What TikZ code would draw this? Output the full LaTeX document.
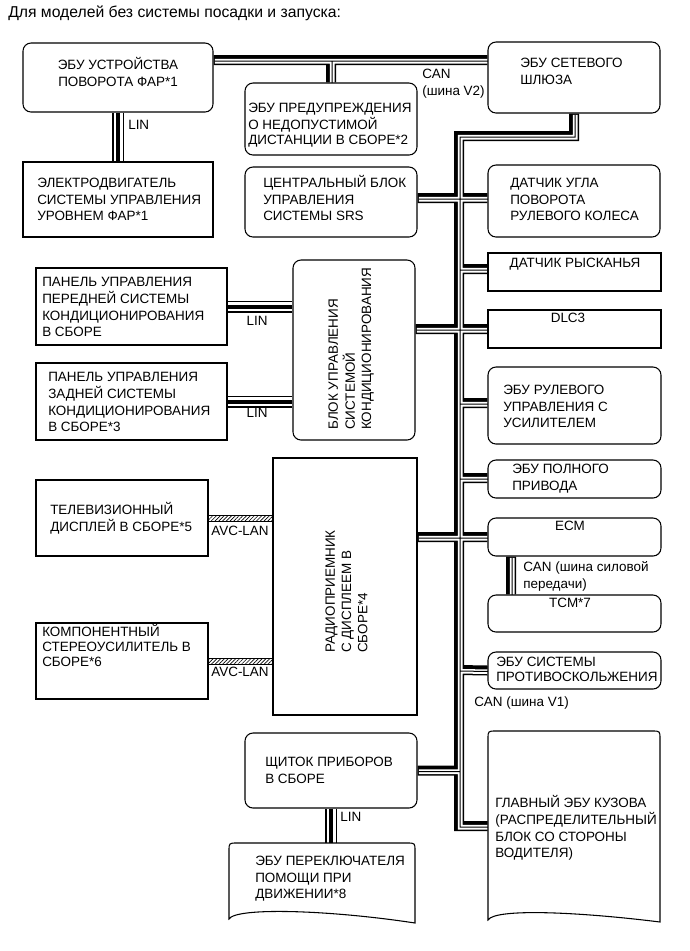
\documentclass[tikz,border=0pt]{standalone}
\usepackage{fontspec}
\setmainfont{Liberation Sans}
\usetikzlibrary{patterns.meta}
\newcommand{\ml}[2][l]{\begin{tabular}[t]{@{}#1@{}}#2\end{tabular}}
\pgfdeclarelayer{bg}
\pgfsetlayers{bg,main}
\tikzset{
  sz/.style 2 args={minimum width=#1*0.75pt, minimum height=#2*0.75pt},
  box/.style={draw, line width=0.8pt, fill=white, inner sep=0pt, rectangle},
  rbox/.style={box, rounded corners=6pt},
  shapeline/.style={draw, line width=0.8pt, fill=white},
  txt/.style={inner sep=0pt, font=\fontsize{10.1}{12.2}\selectfont},
  busA/.style={draw=black, line width=7.5pt},
  busB/.style={draw=white, line width=3.4pt, transform canvas={shift={(1.25,1.25)}}},
  busC/.style={draw=black, line width=0.75pt, transform canvas={shift={(1,1)}}},
  linA/.style={draw=black, line width=9pt},
  linB/.style={draw=white, line width=6.75pt},
  linC/.style={draw=black, line width=3pt},
  avc/.style={draw=black, line width=0.5pt, pattern={Lines[angle=45,distance=2pt,line width=0.5pt]}},
}
\begin{document}
\begin{tikzpicture}[x=0.75pt,y=-0.75pt]
\useasboundingbox (0,0) rectangle (690,951);

% document-shaped boxes
\draw[shapeline] (229,919) -- (229,851) .. controls (229,843) .. (237,843) -- (407,843) .. controls (415,843) .. (415,851) -- (415,923) .. controls (330,910) and (236,907) .. (229,919) -- cycle;
\draw[shapeline] (488,920) -- (488,739) .. controls (488,731) .. (496,731) -- (652,731) .. controls (660,731) .. (660,739) -- (660,922) .. controls (580,912) and (495,908) .. (488,920) -- cycle;

% boxes
\node[rbox, sz={190}{69}] (hl) at (118,77.5) {};
\node[box, sz={190}{75}] (lvl) at (118,199.5) {};
\node[rbox, sz={172}{72}] (warn) at (331,119) {};
\node[rbox, sz={172}{71}] (gw) at (574,77.5) {};
\node[rbox, sz={172}{70}] (srs) at (331,202) {};
\node[rbox, sz={172}{72}] (sas) at (574,201) {};
\node[box, sz={173}{38}] (yaw) at (574.5,272) {};
\node[box, sz={173}{38}] (dlc) at (574.5,329) {};
\node[rbox, sz={173}{77}] (eps) at (574.5,405.5) {};
\node[rbox, sz={122}{180}] (ac) at (354,350) {};
\node[box, sz={191}{77}] (fp) at (131.5,306.5) {};
\node[box, sz={191}{77}] (rp) at (131.5,401.5) {};
\node[rbox, sz={173}{38}] (awd) at (574.5,479) {};
\node[rbox, sz={173}{38}] (ecm) at (574.5,537) {};
\node[rbox, sz={173}{37}] (tcm) at (574.5,613.5) {};
\node[rbox, sz={173}{37}] (abs) at (574.5,670.5) {};
\node[box, sz={144}{257}] (radio) at (345,586.5) {};
\node[box, sz={172}{76}] (tv) at (122,518) {};
\node[box, sz={172}{76}] (amp) at (122,661) {};
\node[rbox, sz={172}{75}] (meter) at (331,770.5) {};
\node[inner sep=0pt, sz={186}{77}] (sw) at (322,881.5) {};
\node[inner sep=0pt, sz={172}{189}] (body) at (574,825.5) {};

% buses
\def\cannet{(hl.east |- 0,60) -- (gw.west |- 0,60) (warn.north |- 0,60) -- (warn.north)
   (gw.south) -- (gw.south |- 0,136) -- (459,136) -- (459,826) -- (body.west |- 0,826)
   (srs.east |- 0,198) -- (sas.west |- 0,198)
   (459,269) -- (yaw.west |- 0,269)
   (ac.east |- dlc.west) -- (dlc.west)
   (459,403) -- (eps.west |- 0,403)
   (459,478) -- (awd.west |- 0,478)
   (radio.east |- ecm.west) -- (ecm.west)
   (459,670) -- (abs.west)
   (meter.east) -- (459,770.5)
   (ecm.south -| 511,0) -- (tcm.north -| 511,0)}
\def\linnet{(hl.south) -- (lvl.north) (fp.east) -- (ac.west |- fp.east)
   (rp.east) -- (ac.west |- rp.east) (meter.south) -- (meter.south |- sw.north)}
\begin{pgfonlayer}{bg}
\fill[white] (0,0) rectangle (690,951);
\draw[busA] \cannet;
\draw[busB] \cannet;
\draw[busC] \cannet;
\draw[linA] \linnet;
\draw[linB] \linnet;
\draw[linC] \linnet;
\end{pgfonlayer}
\path (radio.west |- tv.east) coordinate (r1) (radio.west |- amp.east) coordinate (r2);
\draw[avc] ([yshift=2.25pt]tv.east) rectangle ([yshift=-2.25pt]r1);
\draw[avc] ([yshift=2.25pt]amp.east) rectangle ([yshift=-2.25pt]r2);

% texts
\node[txt, anchor=base west, font=\fontsize{11.8}{14}\selectfont] (title) at (8,17.5) {Для моделей без системы посадки и запуска:};
\node[txt, anchor=base] (t1) at (118,69.8) {\ml[c]{ЭБУ УСТРОЙСТВА\\ПОВОРОТА ФАР*1}};
\node[txt, anchor=base west] (t2) at (37,187.8) {\ml{ЭЛЕКТРОДВИГАТЕЛЬ\\СИСТЕМЫ УПРАВЛЕНИЯ\\УРОВНЕМ ФАР*1}};
\node[txt, anchor=base west, font=\fontsize{10.1}{11.25}\selectfont] (t3) at (248,112.8) {\ml{ЭБУ ПРЕДУПРЕЖДЕНИЯ\\О НЕДОПУСТИМОЙ\\ДИСТАНЦИИ В СБОРЕ*2}};
\node[txt, anchor=base west] (t4) at (520,67.8) {\ml{ЭБУ СЕТЕВОГО\\ШЛЮЗА}};
\node[txt, anchor=base west] (t5) at (263,187.8) {\ml{ЦЕНТРАЛЬНЫЙ БЛОК\\УПРАВЛЕНИЯ\\СИСТЕМЫ SRS}};
\node[txt, anchor=base west] (t6) at (510,187.8) {\ml{ДАТЧИК УГЛА\\ПОВОРОТА\\РУЛЕВОГО КОЛЕСА}};
\node[txt, anchor=base] (t7) at (575,267.8) {ДАТЧИК РЫСКАНЬЯ};
\node[txt, anchor=base] (t8) at (568,322.8) {DLC3};
\node[txt, anchor=base west] (t9) at (503,394.8) {\ml{ЭБУ РУЛЕВОГО\\УПРАВЛЕНИЯ С\\УСИЛИТЕЛЕМ}};
\node[txt, anchor=base west] (t10) at (42,286.8) {\ml{ПАНЕЛЬ УПРАВЛЕНИЯ\\ПЕРЕДНЕЙ СИСТЕМЫ\\КОНДИЦИОНИРОВАНИЯ\\В СБОРЕ}};
\node[txt, anchor=base west] (t11) at (48,381.8) {\ml{ПАНЕЛЬ УПРАВЛЕНИЯ\\ЗАДНЕЙ СИСТЕМЫ\\КОНДИЦИОНИРОВАНИЯ\\В СБОРЕ*3}};
\node[txt, anchor=base west, rotate=90] (t12) at (337.8,430) {\ml{БЛОК УПРАВЛЕНИЯ\\СИСТЕМОЙ\\КОНДИЦИОНИРОВАНИЯ}};
\node[txt, anchor=base west] (t13) at (512,473.8) {\ml{ЭБУ ПОЛНОГО\\ПРИВОДА}};
\node[txt, anchor=base] (t14) at (570,530.8) {ECM};
\node[txt, anchor=base] (t15) at (570,607.8) {TCM*7};
\node[txt, anchor=base west, font=\fontsize{10.1}{11.25}\selectfont] (t16) at (496,666.8) {\ml{ЭБУ СИСТЕМЫ\\ПРОТИВОСКОЛЬЖЕНИЯ}};
\node[txt, anchor=base west, rotate=90] (t17) at (334.8,653) {\ml{РАДИОПРИЕМНИК\\С ДИСПЛЕЕМ В\\СБОРЕ*4}};
\node[txt, anchor=base west] (t18) at (50,514.8) {\ml{ТЕЛЕВИЗИОННЫЙ\\ДИСПЛЕЙ В СБОРЕ*5}};
\node[txt, anchor=base west, font=\fontsize{10.1}{11.25}\selectfont] (t19) at (42,636.8) {\ml{КОМПОНЕНТНЫЙ\\СТЕРЕОУСИЛИТЕЛЬ В\\СБОРЕ*6}};
\node[txt, anchor=base west] (t20) at (265,766.8) {\ml{ЩИТОК ПРИБОРОВ\\В СБОРЕ}};
\node[txt, anchor=base west] (t21) at (255,865.8) {\ml{ЭБУ ПЕРЕКЛЮЧАТЕЛЯ\\ПОМОЩИ ПРИ\\ДВИЖЕНИИ*8}};
\node[txt, anchor=base west] (t22) at (495,807.8) {\ml{ГЛАВНЫЙ ЭБУ КУЗОВА\\(РАСПРЕДЕЛИТЕЛЬНЫЙ\\БЛОК СО СТОРОНЫ\\ВОДИТЕЛЯ)}};

% bus labels
\node[txt, anchor=base west] (l1) at (128,129.8) {LIN};
\node[txt, anchor=base] (l2) at (257,325.8) {LIN};
\node[txt, anchor=base] (l3) at (257,417.8) {LIN};
\node[txt, anchor=base west] (l4) at (340,821.8) {LIN};
\node[txt, anchor=base] (l5) at (240,535.8) {AVC-LAN};
\node[txt, anchor=base] (l6) at (240,676.8) {AVC-LAN};
\node[txt, anchor=base west] (l7) at (422,78.8) {\ml{CAN\\(шина V2)}};
\node[txt, anchor=base west] (l8) at (523,571.8) {\ml{CAN (шина силовой\\передачи)}};
\node[txt, anchor=base west] (l9) at (474,706.8) {CAN (шина V1)};
\end{tikzpicture}
\end{document}
